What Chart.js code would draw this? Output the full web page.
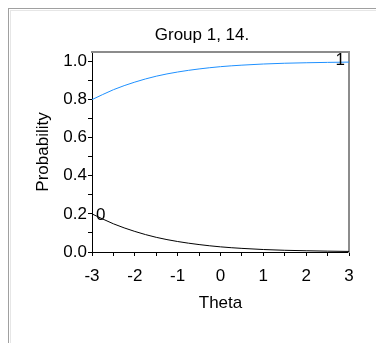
<!DOCTYPE html>
<html>
<head>
<meta charset="utf-8">
<script src="https://cdn.jsdelivr.net/npm/chart.js@4"></script>
<style>
  html, body { margin: 0; padding: 0; background: #fff; }
  #wrap { position: relative; width: 376px; height: 343px; overflow: hidden; }
  canvas { position: absolute; left: 0; top: 0; }
  .f1 { position: absolute; left: 8px; top: 8px; right: 0; bottom: 0; border-left: 1px solid #a0a0a0; border-top: 1px solid #a0a0a0; pointer-events: none; }
  .f2 { position: absolute; left: 10px; top: 10px; right: 0; bottom: 0; border-left: 1px solid #e6e6e6; border-top: 1px solid #e6e6e6; pointer-events: none; }
</style>
</head>
<body>
<div id="wrap">
  <canvas id="c" width="376" height="343"></canvas>
  <div class="f1"></div>
  <div class="f2"></div>
</div>
<script>
const chartTitle = "Group 1, 14.";
const xTitle = "Theta";
const yTitle = "Probability";
const theta = [-3, -2.5, -2, -1.5, -1, -0.5, 0, 0.5, 1, 1.5, 2, 2.5, 3];
const prob1 = [0.800, 0.852, 0.892, 0.923, 0.945, 0.961, 0.973, 0.981, 0.987, 0.991, 0.9935, 0.9955, 0.997];
const prob0 = [0.200, 0.148, 0.108, 0.077, 0.055, 0.039, 0.027, 0.019, 0.013, 0.009, 0.0065, 0.0045, 0.003];
const curveLabels = ["1", "0"];
const xTicks = [-3, -2.5, -2, -1.5, -1, -0.5, 0, 0.5, 1, 1.5, 2, 2.5, 3];
const yTicks = [0, 0.1, 0.2, 0.3, 0.4, 0.5, 0.6, 0.7, 0.8, 0.9, 1.0];

const FONT = "'Liberation Sans', Arial, sans-serif";

const curveLabelPlugin = {
  id: 'curveLabels',
  afterDatasetsDraw(chart) {
    const ctx = chart.ctx;
    ctx.save();
    ctx.font = "17px " + FONT;
    ctx.fillStyle = "#000";
    ctx.textBaseline = "middle";
    const m0 = chart.getDatasetMeta(0).data;
    const p1 = m0[m0.length - 1];
    ctx.textAlign = "right";
    ctx.fillText(curveLabels[0], p1.x - 4, p1.y - 2);
    const m1 = chart.getDatasetMeta(1).data;
    const p0 = m1[0];
    ctx.textAlign = "left";
    ctx.fillText(curveLabels[1], p0.x + 4, p0.y + 1);
    ctx.restore();
  }
};

new Chart(document.getElementById('c'), {
  type: 'line',
  data: {
    labels: theta,
    datasets: [
      { data: theta.map((t, i) => ({x: t, y: prob1[i]})), borderColor: 'rgb(30,144,255)', borderWidth: 1, pointRadius: 0, cubicInterpolationMode: 'monotone', fill: false },
      { data: theta.map((t, i) => ({x: t, y: prob0[i]})), borderColor: '#000', borderWidth: 1, pointRadius: 0, cubicInterpolationMode: 'monotone', fill: false }
    ]
  },
  options: {
    responsive: false,
    animation: false,
    layout: { padding: { left: 28, right: 0, top: 0, bottom: 29 } },
    plugins: {
      legend: { display: false },
      tooltip: { enabled: false },
      title: { display: true, text: chartTitle, color: '#000', font: { family: FONT, size: 17, weight: 'normal' }, padding: { top: 25, bottom: 6.6 } }
    },
    scales: {
      x: {
        type: 'linear', position: 'bottom', min: -3, max: 3,
        afterBuildTicks: s => { s.ticks = xTicks.map(v => ({ value: v })); },
        afterFit: s => { s.height = 62; },
        ticks: { color: '#000', font: { family: FONT, size: 17 }, padding: 10, maxRotation: 0, autoSkip: false,
          callback: v => Number.isInteger(v) ? String(v) : '' },
        grid: { drawOnChartArea: false, color: '#000', tickLength: 4 },
        border: { color: '#000', width: 1 },
        title: { display: true, text: xTitle, color: '#000', font: { family: FONT, size: 17 }, padding: { top: 0, bottom: 0 } }
      },
      y: {
        type: 'linear', position: 'left', min: 0, max: 1.05,
        afterBuildTicks: s => { s.ticks = yTicks.map(v => ({ value: v })); },
        afterFit: s => { s.width = 64; },
        ticks: { color: '#000', font: { family: FONT, size: 17 }, padding: 1, autoSkip: false,
          callback: v => (Math.round(v * 10) % 2 === 0) ? v.toFixed(1) : '' },
        grid: { drawOnChartArea: false, color: '#000', tickLength: 4 },
        border: { color: '#000', width: 1 },
        title: { display: true, text: yTitle, color: '#000', font: { family: FONT, size: 17 }, padding: { top: 5, bottom: 0 } }
      },
      x2: {
        type: 'linear', position: 'top', min: -3, max: 3,
        afterFit: s => { s.height = 0; },
        ticks: { display: false },
        grid: { display: false, drawTicks: false },
        border: { color: '#8c8c8c', width: 2 }
      },
      y2: {
        type: 'linear', position: 'right', min: 0, max: 1.05,
        afterFit: s => { s.width = 27; },
        ticks: { display: false },
        grid: { display: false, drawTicks: false },
        border: { color: '#8c8c8c', width: 2 }
      }
    }
  },
  plugins: [curveLabelPlugin]
});
</script>
</body>
</html>
